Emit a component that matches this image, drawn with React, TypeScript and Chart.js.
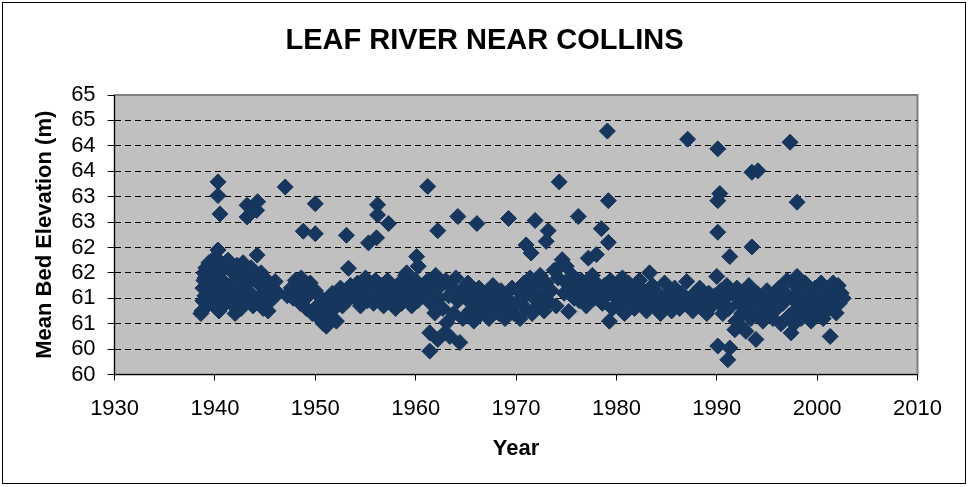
import { useEffect, useRef } from 'react';
import { Chart, registerables } from 'chart.js';

Chart.register(...registerables);

const chartTitle = 'LEAF RIVER NEAR COLLINS';
const xAxisTitle = 'Year';
const yAxisTitle = 'Mean Bed Elevation (m)';
const xTickMin = 1930;
const xTickMax = 2010;
const yTickLabels = ['60', '60', '61', '61', '62', '62', '63', '63', '64', '64', '65', '65'];

// [year, mean bed elevation]
const survey1930s: [number, number][] = [
  [1938.6, 61.2], [1938.7, 61.25], [1938.8, 61.45], [1938.8, 61.7], [1938.9, 61.85], [1938.9, 62.0],
  [1939.0, 61.55], [1939.0, 61.9], [1939.1, 62.1], [1939.2, 61.35], [1939.3, 61.75], [1939.4, 62.2],
  [1939.5, 61.6], [1939.6, 61.95], [1939.7, 61.4], [1939.8, 62.05], [1939.9, 61.8],
];

const survey1940s: [number, number][] = [
  [1940.0, 62.3], [1940.1, 61.5], [1940.2, 61.7], [1940.3, 62.45], [1940.3, 63.79], [1940.3, 63.52],
  [1940.5, 63.16], [1940.4, 61.25], [1940.5, 61.9], [1940.6, 62.2], [1940.7, 61.6], [1940.8, 61.35],
  [1941.0, 62.1], [1941.0, 61.8], [1941.2, 61.5], [1941.3, 62.25], [1941.5, 61.7], [1941.6, 61.4],
  [1941.8, 62.0], [1942.0, 61.2], [1942.0, 61.85], [1942.2, 62.15], [1942.3, 61.55], [1942.5, 61.95],
  [1942.6, 61.3], [1942.8, 62.2], [1942.9, 61.7], [1943.0, 61.45], [1943.2, 63.33], [1943.2, 63.1],
  [1943.1, 62.05], [1943.3, 61.8], [1943.5, 61.6], [1943.6, 62.1], [1943.8, 61.35], [1944.0, 61.9],
  [1944.2, 62.35], [1944.25, 63.4], [1944.15, 63.23], [1944.3, 61.5], [1944.5, 61.75], [1944.6, 62.0],
  [1944.8, 61.3], [1945.0, 61.6], [1945.2, 61.85], [1945.3, 61.25], [1945.5, 61.44], [1945.7, 61.7],
  [1946.0, 61.83], [1946.3, 61.6],
  [1947.0, 63.69], [1947.2, 61.55], [1947.6, 61.7], [1947.8, 61.5], [1948.0, 61.85], [1948.2, 61.6],
  [1948.5, 61.4], [1948.6, 61.9], [1948.8, 62.82], [1948.9, 61.75], [1949.1, 61.3], [1949.3, 61.55],
  [1949.5, 61.8], [1949.7, 61.2],
];

const survey1950s: [number, number][] = [
  [1950.0, 63.36], [1950.0, 62.77], [1950.0, 61.65], [1950.2, 61.35], [1950.4, 61.1], [1950.6, 61.5],
  [1950.8, 61.0], [1951.0, 61.25], [1951.1, 60.95], [1951.3, 61.4], [1951.5, 61.15], [1951.7, 61.6],
  [1951.9, 61.3], [1952.1, 61.05], [1952.3, 61.5], [1952.5, 61.7], [1952.7, 61.35], [1952.9, 61.6],
  [1953.1, 62.74], [1953.3, 62.09], [1953.2, 61.45], [1953.5, 61.75], [1953.7, 61.55],
  [1954.0, 61.5], [1954.2, 61.8], [1954.5, 61.35], [1954.7, 61.65], [1955.0, 61.9], [1955.3, 62.59],
  [1955.2, 61.45], [1955.5, 61.7], [1955.8, 61.4], [1956.1, 62.69], [1956.2, 63.34], [1956.2, 63.14],
  [1956.0, 61.85], [1956.3, 61.55], [1956.6, 61.75], [1956.8, 61.35], [1957.0, 61.6], [1957.3, 62.97],
  [1957.2, 61.85], [1957.5, 61.45], [1957.7, 61.7], [1958.0, 61.3], [1958.2, 61.55], [1958.4, 61.8],
  [1958.6, 61.4], [1958.8, 61.65], [1959.0, 61.95], [1959.1, 62.0], [1959.2, 61.5], [1959.4, 61.75],
  [1959.6, 61.35], [1959.8, 61.6],
];

const survey1960s: [number, number][] = [
  [1960.0, 61.85], [1960.1, 62.32], [1960.25, 62.13], [1960.2, 61.45], [1960.5, 61.7], [1960.7, 61.55],
  [1961.0, 61.6], [1961.2, 63.7], [1961.2, 61.85], [1961.4, 60.82], [1961.4, 60.46], [1961.5, 61.4],
  [1961.7, 61.7], [1961.9, 61.21], [1962.0, 61.95], [1962.2, 62.83], [1962.2, 60.69], [1962.3, 61.5],
  [1962.5, 61.75], [1962.7, 61.3], [1962.9, 60.82], [1963.0, 61.85], [1963.1, 61.02], [1963.3, 61.55],
  [1963.4, 60.75], [1963.6, 61.7], [1963.8, 61.2], [1964.0, 61.9], [1964.2, 63.11], [1964.2, 61.45],
  [1964.4, 60.63], [1964.5, 61.65], [1964.7, 61.1], [1965.0, 61.5], [1965.2, 61.8], [1965.4, 61.25],
  [1965.6, 61.6], [1965.8, 61.05], [1966.0, 61.4], [1966.1, 62.97], [1966.3, 61.7], [1966.5, 61.2],
  [1966.7, 61.5], [1966.9, 61.35], [1967.1, 61.6], [1967.3, 61.1], [1967.5, 61.45], [1967.7, 61.75],
  [1967.9, 61.3], [1968.1, 61.55], [1968.3, 61.2], [1968.5, 61.65], [1968.7, 61.4], [1968.9, 61.1],
  [1969.1, 61.5], [1969.25, 63.07], [1969.4, 61.3], [1969.6, 61.7], [1969.8, 61.2],
];

const survey1970s: [number, number][] = [
  [1970.0, 61.4], [1970.2, 61.65], [1970.4, 61.1], [1970.6, 61.5], [1970.8, 61.8], [1971.0, 62.55],
  [1971.0, 61.3], [1971.2, 61.6], [1971.5, 62.39], [1971.4, 61.9], [1971.6, 61.2], [1971.9, 63.03],
  [1971.8, 61.5], [1972.0, 61.75], [1972.2, 61.35], [1972.4, 61.95], [1972.6, 61.55], [1972.8, 61.25],
  [1973.0, 62.62], [1973.0, 61.8], [1973.2, 62.83], [1973.2, 61.45], [1973.5, 61.65], [1973.8, 62.05],
  [1974.0, 61.35], [1974.3, 63.79], [1974.2, 61.9], [1974.5, 62.15], [1974.6, 62.26], [1974.8, 61.6],
  [1975.0, 62.13], [1975.0, 61.8], [1975.25, 61.24], [1975.4, 61.7], [1975.6, 61.95], [1975.8, 61.5],
  [1976.0, 61.75], [1976.2, 63.11], [1976.3, 61.45], [1976.5, 61.85], [1976.8, 61.6], [1977.0, 61.35],
  [1977.2, 62.29], [1977.3, 61.7], [1977.6, 61.95], [1977.8, 61.5], [1978.0, 62.36], [1978.0, 61.8],
  [1978.3, 61.6], [1978.5, 62.87], [1978.6, 61.4], [1978.8, 61.75], [1979.1, 64.79], [1979.2, 63.42],
  [1979.2, 62.6], [1979.0, 61.55], [1979.3, 61.05], [1979.4, 61.85], [1979.6, 61.3], [1979.8, 61.65],
];

const survey1980s: [number, number][] = [
  [1980.0, 61.5], [1980.2, 61.75], [1980.4, 61.35], [1980.6, 61.9], [1980.8, 61.2], [1981.0, 61.6],
  [1981.2, 61.8], [1981.4, 61.45], [1981.6, 61.7], [1981.8, 61.3], [1982.0, 61.55], [1982.3, 61.85],
  [1982.5, 61.4], [1982.7, 61.65], [1983.0, 61.25], [1983.3, 62.0], [1983.3, 61.5], [1983.6, 61.75],
  [1983.9, 61.35], [1984.1, 61.6], [1984.4, 61.2], [1984.6, 61.5], [1984.8, 61.8], [1985.0, 61.35],
  [1985.3, 61.6], [1985.5, 61.25], [1985.8, 61.7], [1986.0, 61.45], [1986.3, 61.3], [1986.5, 61.6],
  [1986.8, 61.4], [1987.0, 61.83], [1987.1, 64.63], [1987.3, 61.5], [1987.6, 61.25], [1987.8, 61.6],
  [1988.0, 61.4], [1988.3, 61.7], [1988.5, 61.3], [1988.8, 61.5], [1989.0, 61.2], [1989.2, 61.6],
  [1989.5, 61.35], [1989.8, 61.55],
];

const survey1990s: [number, number][] = [
  [1990.0, 61.93], [1990.1, 64.44], [1990.3, 63.56], [1990.1, 63.42], [1990.1, 62.8], [1990.1, 60.56],
  [1990.2, 61.4], [1990.4, 61.65], [1990.6, 61.2], [1990.8, 61.5], [1991.1, 60.29], [1991.3, 60.52],
  [1991.3, 62.32], [1991.0, 61.75], [1991.2, 61.3], [1991.5, 61.6], [1991.8, 60.88], [1991.9, 61.05],
  [1992.0, 61.7], [1992.2, 61.4], [1992.4, 60.95], [1992.5, 61.2], [1992.7, 61.55], [1992.9, 60.85],
  [1993.0, 61.3], [1993.2, 61.75], [1993.5, 63.98], [1993.5, 62.51], [1993.4, 61.1], [1993.6, 61.45],
  [1993.9, 60.69], [1994.1, 64.01], [1994.0, 61.6], [1994.2, 61.25], [1994.4, 61.5], [1994.6, 61.05],
  [1994.8, 61.35], [1995.0, 61.65], [1995.2, 61.2], [1995.4, 61.45], [1995.6, 61.1], [1995.8, 61.55],
  [1996.0, 61.3], [1996.2, 61.7], [1996.4, 61.0], [1996.6, 61.4], [1996.8, 61.6], [1997.0, 61.85],
  [1997.2, 61.15], [1997.3, 64.57], [1997.4, 60.82], [1997.5, 61.5], [1997.7, 61.0], [1997.8, 61.75],
  [1998.0, 63.39], [1998.0, 61.93], [1998.0, 61.3], [1998.2, 61.6], [1998.4, 61.1], [1998.6, 61.45],
  [1998.8, 61.8], [1999.0, 61.25], [1999.2, 61.55], [1999.4, 61.05], [1999.6, 61.4], [1999.8, 61.7],
];

const survey2000s: [number, number][] = [
  [2000.0, 61.2], [2000.2, 61.5], [2000.4, 61.8], [2000.6, 61.1], [2000.8, 61.35], [2001.0, 61.6],
  [2001.3, 60.75], [2001.2, 61.3], [2001.5, 61.7], [2001.6, 61.8], [2001.7, 61.45], [2001.9, 61.21],
  [2002.1, 61.75], [2002.2, 61.4], [2002.4, 61.6], [2002.6, 61.5],
];

const allSurveys = [
  ...survey1930s, ...survey1940s, ...survey1950s, ...survey1960s,
  ...survey1970s, ...survey1980s, ...survey1990s, ...survey2000s,
];

const FONT = "'Liberation Sans', Arial, Helvetica, sans-serif";
const MARKER = '#17365D';

export default function App() {
  const canvasRef = useRef<HTMLCanvasElement | null>(null);

  useEffect(() => {
    const canvas = canvasRef.current;
    if (!canvas) return;

    const framePlugin = {
      id: 'excelFrame',
      beforeDraw(chart: any) {
        const { ctx, chartArea } = chart;
        const { left, top, right, bottom } = chartArea;
        ctx.save();
        ctx.fillStyle = '#FFFFFF';
        ctx.fillRect(0, 0, chart.width, chart.height);
        ctx.fillStyle = '#C0C0C0';
        ctx.fillRect(left, top, right - left, bottom - top);
        ctx.strokeStyle = '#808080';
        ctx.lineWidth = 2;
        ctx.strokeRect(left, top, right - left, bottom - top);
        ctx.restore();
      },
      afterDraw(chart: any) {
        const { ctx } = chart;
        ctx.save();
        ctx.strokeStyle = '#000000';
        ctx.lineWidth = 1;
        ctx.strokeRect(2.5, 2.5, 963, 481);
        ctx.restore();
      },
    };

    const chart = new Chart(canvas, {
      type: 'scatter',
      data: {
        datasets: [
          {
            label: 'Mean Bed Elevation',
            data: allSurveys.map(([x, y]) => ({ x, y })),
            pointStyle: 'rectRot',
            pointRadius: 8,
            pointHoverRadius: 8,
            pointBackgroundColor: MARKER,
            pointBorderColor: MARKER,
            pointBorderWidth: 1,
          },
        ],
      },
      options: {
        responsive: false,
        animation: false,
        layout: { padding: { left: 0, right: 0, top: 0, bottom: 0 } },
        plugins: {
          legend: { display: false },
          tooltip: { enabled: false },
          title: {
            display: true,
            text: chartTitle,
            color: '#000',
            font: { family: FONT, size: 29, weight: 'bold', lineHeight: 1.2 },
            padding: { top: 24, bottom: 36.2 },
          },
        },
        scales: {
          x: {
            type: 'linear',
            position: 'bottom',
            min: xTickMin,
            max: xTickMax,
            afterFit: (scale: any) => {
              scale.height = 112.5;
            },
            ticks: {
              stepSize: 10,
              color: '#000',
              padding: 15,
              font: { family: FONT, size: 22 },
              callback: (v: any) => String(v),
              maxRotation: 0,
              autoSkip: false,
            },
            grid: {
              drawOnChartArea: false,
              drawTicks: true,
              tickLength: 6,
              tickColor: '#000',
              color: '#000',
            },
            border: { display: true, color: '#000', width: 1 },
            title: {
              display: true,
              text: xAxisTitle,
              color: '#000',
              font: { family: FONT, size: 22, weight: 'bold', lineHeight: 1.2 },
              padding: { top: 0, bottom: 24.8 },
            },
          },
          y: {
            type: 'linear',
            position: 'left',
            min: 60,
            max: 65.5,
            afterFit: (scale: any) => {
              scale.width = 114.6;
            },
            ticks: {
              stepSize: 0.5,
              color: '#000',
              padding: 12,
              autoSkip: false,
              maxTicksLimit: 30,
              font: { family: FONT, size: 22, lineHeight: 1 },
              callback: (_v: any, i: number) => yTickLabels[i],
            },
            grid: {
              drawOnChartArea: true,
              drawTicks: true,
              tickLength: 7,
              tickColor: '#000',
              tickWidth: 1,
              lineWidth: 1,
              color: (ctx: any) =>
                ctx.index === 0 || ctx.index === yTickLabels.length - 1 ? 'rgba(0,0,0,0)' : '#000',
            },
            border: { display: true, color: '#000', width: 1, dash: [6, 4] },
            title: {
              display: true,
              text: yAxisTitle,
              color: '#000',
              font: { family: FONT, size: 22, weight: 'bold', lineHeight: 1.2 },
              padding: { top: 31.8, bottom: 0 },
            },
          },
          yRight: {
            type: 'linear',
            position: 'right',
            display: true,
            afterFit: (scale: any) => {
              scale.width = 51.5;
            },
            ticks: { display: false },
            grid: { display: false, drawOnChartArea: false },
            border: { display: false },
          },
        },
      },
      plugins: [framePlugin],
    } as any);

    return () => {
      chart.destroy();
    };
  }, []);

  return (
    <div style={{ position: 'fixed', left: 0, top: 0, width: 969, height: 487, background: '#fff' }}>
      <canvas ref={canvasRef} width={969} height={487} style={{ width: 969, height: 487, display: 'block' }} />
    </div>
  );
}
